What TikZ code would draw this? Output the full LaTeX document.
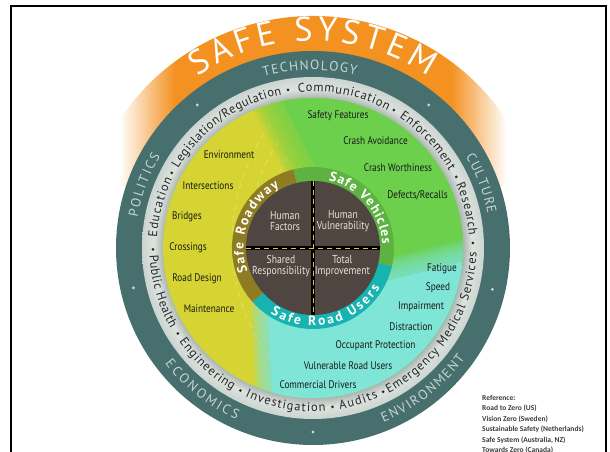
\documentclass[tikz,border=0pt]{standalone}
\usepackage{fontspec}
\setmainfont{PT Sans}
\newfontfamily\ptf{PT Sans}
\newfontfamily\ptcf[FakeStretch=0.84]{PT Sans}
\newfontfamily\carf{Carlito}
\usetikzlibrary{decorations.text}
\definecolor{orng}{HTML}{F39121}
\definecolor{tealr}{HTML}{466F6E}
\definecolor{tealtxt}{HTML}{C6D5D2}
\definecolor{ringl}{HTML}{DDE4E0}
\definecolor{ringd}{HTML}{AAB5B0}
\definecolor{ringm}{HTML}{CBD4D0}
\definecolor{ylw}{HTML}{D5D433}
\definecolor{grn}{HTML}{6DD04D}
\definecolor{cyn}{HTML}{7FE5D6}
\definecolor{olv}{HTML}{8E7C22}
\definecolor{vgrn}{HTML}{5DB241}
\definecolor{ucyn}{HTML}{17B3B1}
\definecolor{hub}{HTML}{4F4541}
\definecolor{hubtxt}{HTML}{EAE2DA}
\definecolor{lane}{HTML}{D8C83A}
\definecolor{reftxt}{HTML}{3A3A3A}
\pgfdeclarehorizontalshading{orfade}{100bp}{color(0bp)=(white); color(30.6bp)=(white); color(36.2bp)=(orng); color(63.8bp)=(orng); color(69.4bp)=(white); color(100bp)=(white)}
\pgfdeclareradialshading{grayring}{\pgfpoint{0bp}{0bp}}{color(0bp)=(ringd); color(21.9bp)=(ringd); color(23.3bp)=(ringl); color(25bp)=(ringm); color(50bp)=(ringm)}
\newcommand\arcword[5]{\path[decorate,decoration={text along path,text align=fit to path,text={|#1|#5}}] ([shift={(#3:#2pt)}]C) arc[start angle=#3,end angle=#4,radius=#2pt];}
\newcommand\myring{\ptf\fontsize{12.5}{13}\selectfont\color{black!85}}
\newcommand\myteal{\ptf\fontsize{13.5}{14}\selectfont\color{tealtxt}}
\newcommand\mysafe{\ptf\bfseries\fontsize{13.5}{14}\selectfont\color{white}}
\newcommand\mybig{\ptf\fontsize{34}{34}\selectfont\color{white}}
\begin{document}
\begin{tikzpicture}[x=1pt,y=1pt,
  lbl/.style={font=\ptcf\fontsize{11}{12}\selectfont, text=black!90, inner sep=0pt},
  hubl/.style={font=\ptcf\fontsize{11.5}{11}\selectfont, text=hubtxt, align=center, inner sep=0pt},
  refl/.style={font=\carf\bfseries\fontsize{7.5}{8}\selectfont, text=reftxt, anchor=west, inner sep=0pt},
  roadln/.style={white, opacity=0.28, line width=0.8pt, dash pattern=on 6pt off 5pt}]
\useasboundingbox (0,0) rectangle (610,452);
\coordinate (C) at (313,204);
% frame
\draw[line width=2.2pt] (11.3,0) -- (11.3,446.2) -- (606.3,446.2) -- (606.3,0);
% orange band
\begin{scope}
\clip ([shift={(18:232pt)}]C) arc[start angle=18,end angle=162,radius=232pt] -- (C) -- cycle;
\shade[shading=orfade] (63,200) rectangle (563,452);
\end{scope}
% teal and gray rings
\fill[tealr] (C) circle (197pt);
\shade[shading=grayring] (C) circle (171pt);
% coloured disc
\begin{scope}
\clip (C) circle (150pt);
\fill[ylw] (C) circle (151pt);
\coordinate (RC) at (430,210);
\foreach \r in {150,166,182,198}
  \draw[roadln] ([shift={(115:\r pt)}]RC) arc[start angle=115,end angle=250,radius=\r pt];
\foreach \k in {0,...,9}{
  \pgfmathsetmacro\s{-15+3*\k}
  \begin{scope}[shift={({\s*0.894},{\s*0.447})}]
  \fill[grn,opacity=0.15] (195,492) -- (421,40) -- (640,40) -- (640,492) -- cycle;
  \end{scope}}
\begin{scope}[shift={({15*0.894},{15*0.447})}]
\fill[grn] (195,492) -- (421,40) -- (640,40) -- (640,492) -- cycle;
\end{scope}
\foreach \k in {0,...,8}{
  \pgfmathsetmacro\t{-12+3*\k}
  \begin{scope}[shift={({\t*0.7},{-\t*0.7})}]
  \fill[cyn,opacity=0.16] (258,152) -- (640,245) -- (640,40) -- (264,40) -- cycle;
  \end{scope}}
\begin{scope}[shift={({14*0.7},{-14*0.7})}]
\fill[cyn] (258,152) -- (640,245) -- (640,40) -- (264,40) -- cycle;
\end{scope}
\end{scope}
% inner ring segments
\fill[olv] ([shift={(104:81pt)}]C) arc[start angle=104,end angle=222,radius=81pt] -- ([shift={(222:60pt)}]C) arc[start angle=222,end angle=104,radius=60pt] -- cycle;
\fill[vgrn] ([shift={(-13:81pt)}]C) arc[start angle=-13,end angle=104,radius=81pt] -- ([shift={(104:60pt)}]C) arc[start angle=104,end angle=-13,radius=60pt] -- cycle;
\fill[ucyn] ([shift={(222:81pt)}]C) arc[start angle=222,end angle=347,radius=81pt] -- ([shift={(347:60pt)}]C) arc[start angle=347,end angle=222,radius=60pt] -- cycle;
% hub
\fill[hub] (C) circle (67pt);
\coordinate (hN) at ([yshift=67pt]C);
\coordinate (hS) at ([yshift=-67pt]C);
\coordinate (hW) at ([xshift=-67pt]C);
\coordinate (hE) at ([xshift=67pt]C);
\draw[line width=3.2pt,black] (hN) -- (hS) (hW) -- (hE);
\draw[lane,line width=0.9pt,dash pattern=on 5pt off 4pt] (hN) -- (hS) (hW) -- (hE);
\node[hubl] (hf) at (285,231.3) {Human\\Factors};
\node[hubl] (hv) at (343,231.3) {Human\\Vulnerability};
\node[hubl] (sr) at (281,185.7) {Shared\\Responsibility};
\node[hubl] (ti) at (342.4,185.7) {Total\\Improvement};
% inner ring labels
\arcword{\mysafe}{69.5}{200}{119}{Safe Roadway}
\arcword{\mysafe}{69.5}{77}{3}{Safe Vehicles}
\arcword{\mysafe}{78}{237}{329}{Safe Road Users}
% disc labels
\node[lbl] (l1) at (338,336) {Safety Features};
\node[lbl] (l2) at (375.5,311) {Crash Avoidance};
\node[lbl] (l3) at (398,284) {Crash Worthiness};
\node[lbl] (l4) at (417.5,257) {Defects/Recalls};
\node[lbl] (l5) at (229,297) {Environment};
\node[lbl] (l6) at (208,266) {Intersections};
\node[lbl] (l7) at (187,235) {Bridges};
\node[lbl] (l8) at (188,204) {Crossings};
\node[lbl] (l9) at (197,173) {Road Design};
\node[lbl] (l10) at (209,143) {Maintenance};
\node[lbl] (l11) at (442,183) {Fatigue};
\node[lbl] (l12) at (438,164) {Speed};
\node[lbl] (l13) at (421,145) {Impairment};
\node[lbl] (l14) at (411,125) {Distraction};
\node[lbl] (l15) at (375.5,106) {Occupant Protection};
\node[lbl] (l16) at (348,86) {Vulnerable Road Users};
\node[lbl] (l17) at (318,67) {Commercial Drivers};
% gray ring words
\arcword{\myring}{156.5}{176}{154}{Education}
\arcword{\myring}{156.5}{149.5}{101.5}{Legislation/Regulation}
\arcword{\myring}{156.5}{95.5}{61.5}{Communication}
\arcword{\myring}{156.5}{56.5}{29.5}{Enforcement}
\arcword{\myring}{156.5}{24}{4.5}{Research}
\arcword{\myring}{163.5}{182.5}{209.5}{Public Health}
\arcword{\myring}{163.5}{215}{240.5}{Engineering}
\arcword{\myring}{163.5}{245.5}{274.5}{Investigation}
\arcword{\myring}{163.5}{279.5}{293.5}{Audits}
\arcword{\myring}{163.5}{297.5}{358.5}{Emergency Medical Services}
\foreach \a in {180.5,152,99,59.6,26.4,1.8,296,277,243,212.3}
  \fill[black!85] ([shift={(\a:160pt)}]C) circle (1.5pt);
% teal ring words
\arcword{\myteal}{178}{106}{76}{TECHNOLOGY}
\arcword{\myteal}{178}{31}{11}{CULTURE}
\arcword{\myteal}{178}{170}{149}{POLITICS}
\arcword{\myteal}{188}{-68}{-36}{ENVIRONMENT}
\arcword{\myteal}{188}{-142}{-114}{ECONOMICS}
\foreach \a in {129,51,-13,-90,192.5}
  \fill[tealtxt] ([shift={(\a:184pt)}]C) circle (1.6pt);
% title
\arcword{\mybig}{207}{124}{56}{SAFE SYSTEM}
% reference block
\node[refl] (r0) at (482,54) {Reference:};
\node[refl] (r1) at (482,44) {Road to Zero (US)};
\node[refl] (r2) at (482,33) {Vision Zero (Sweden)};
\node[refl] (r3) at (482,23) {Sustainable Safety (Netherlands)};
\node[refl] (r4) at (482,12) {Safe System (Australia, NZ)};
\node[refl] (r5) at (482,1.5) {Towards Zero (Canada)};
\end{tikzpicture}
\end{document}
